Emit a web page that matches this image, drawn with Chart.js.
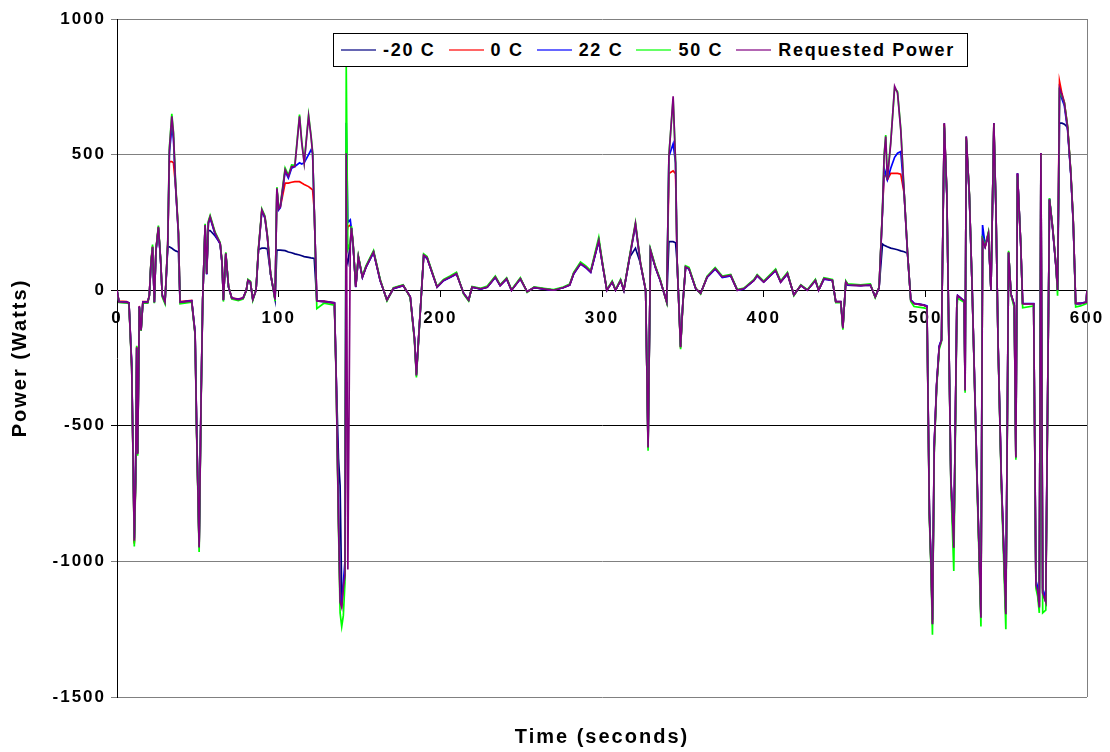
<!DOCTYPE html>
<html>
<head>
<meta charset="utf-8">
<script src="https://cdn.jsdelivr.net/npm/chart.js@4.4.1/dist/chart.umd.min.js"></script>
<style>
  html, body { margin: 0; padding: 0; background: #fff; }
  #wrap { position: relative; width: 1110px; height: 752px; }
  #legend {
    position: absolute; left: 333px; top: 33px; width: 635px; height: 34px;
    box-sizing: border-box; border: 1px solid #000; background: #fff;
    display: flex; align-items: center; padding-left: 7px;
    font: bold 18px "Liberation Sans", Arial, sans-serif; letter-spacing: 1.7px; color: #000;
  }
  .item { display: flex; align-items: center; margin-right: 13px; white-space: nowrap; }
  .swatch { width: 35px; height: 2px; margin-right: 7px; opacity: 0.6; }
</style>
</head>
<body>
<div id="wrap">
  <canvas id="powerChart" width="1110" height="752"></canvas>
  <div id="legend"></div>
</div>
<script>
// time axis (seconds)
const timeSec = [
  0, 1.2, 6, 7.4, 9.1, 10.7, 11.5, 12.2, 12.8, 13.8,
  14.9, 16, 19, 20, 21, 22, 23.1, 24.1, 25.6, 27,
  28, 29.7, 31.4, 32.4, 33.9, 34.9, 36.3, 38, 39, 46.2,
  48.3, 49.3, 50.8, 52, 53, 54.5, 55.5, 56.5, 57.6, 60.7,
  63.8, 65, 65.8, 67.3, 69, 71, 75, 78, 80, 81,
  82.5, 84, 86, 87.5, 89.6, 91.5, 93, 95, 97.8, 98.9,
  100, 101, 104, 106, 108, 110, 112.9, 114.3, 115.8, 118.5,
  120, 121, 122, 123.6, 128, 134.5, 135.5, 137, 138, 139,
  140, 141, 141.8, 142.8, 144.3, 145, 146, 147.7, 149.3, 151.8,
  154, 158.7, 162.8, 167, 171, 177, 181.4, 184, 185.2, 186.5,
  188.4, 189.7, 191.8, 198, 202, 206, 210, 214.4, 217.5, 219.6,
  225, 229, 234, 237, 241, 244, 249.5, 253.7, 258, 264,
  270, 276, 280, 282.5, 286.7, 290, 293, 298, 300.5, 303,
  306.3, 308.4, 311.5, 313.5, 317, 320.7, 323.8, 327, 328.5, 330,
  333, 336, 340, 341.4, 344, 345.5, 346.5, 348.6, 350, 351.7,
  353.8, 358, 361, 365, 370, 374.4, 379.6, 383.7, 387.8, 394,
  396, 400, 407.4, 410.5, 414.7, 418.7, 423, 427, 432, 434,
  437.3, 442.5, 444.6, 447.7, 449, 450.8, 452, 460, 466, 469,
  471.4, 473.5, 474.5, 475.5, 476.5, 478.6, 481, 482.8, 484.8, 486.9,
  489, 491, 493, 499, 501, 502.5, 503.5, 504.4, 505.5, 507,
  508.6, 510, 511.7, 513.3, 515.8, 517.6, 519.5, 520, 524, 524.6,
  525.3, 527.2, 529, 532, 534.4, 535.4, 537, 539, 540.6, 542.4,
  543.7, 545, 547, 549.8, 551.5, 553, 555, 556, 557, 559,
  560.2, 567, 568.4, 569.5, 570.5, 571.5, 572.6, 574.5, 576.8, 578.8,
  580.8, 581.8, 583, 584.5, 586, 588, 590, 591.5, 593, 596,
  599.5, 600
];

const powerMinus20C = [
  0, -44, -46, -49, -280, -930, -695, -212, -600, -61,
  -147, -45, -45, -20, 98, 158, -45, 147, 230, 110,
  -20, -45, 160, 160, 155, 150, 145, 141, -45, -40,
  -160, -530, -945, -405, -37, 238, 60, 220, 220, 200,
  173, 100, -37, 136, 12, -30, -35, -30, 0, 37,
  30, -35, 0, 150, 155, 155, 152, 60, -35, 148,
  148, 148, 146, 141, 138, 134, 130, 127, 124, 121,
  119, 118, 117, -40, -42, -48, -300, -620, -720, -1120,
  -1100, -1050, 120, 100, 170, 230, 173, 12, 123, 49,
  86, 142, 37, -37, 7, 18, -25, -180, -314, -185,
  0, 129, 120, 12, 37, 49, 62, -12, -37, 12,
  5, 12, 49, 18, 43, 0, 43, -6, 10, 5,
  0, 10, 20, 62, 99, 85, 68, 185, 90, 0,
  31, 0, 37, 0, 120, 155, 99, 0, -580, 148,
  86, 37, -43, 179, 179, 175, 100, -210, -50, 86,
  80, 6, -12, 49, 80, 49, 55, 0, 6, 37,
  55, 31, 74, 31, 62, -18, 18, 0, 37, 0,
  43, 37, -43, -43, -140, 31, 20, 18, 20, -25,
  10, 170, 166, 163, 160, 155, 152, 149, 145, 142,
  136, -37, -49, -55, -60, -825, -1010, -1232, -580, -350,
  -210, -185, 616, 357, -700, -950, -49, -20, -40, -370,
  567, 357, 0, -700, -1208, 185, 160, 210, 0, 616,
  296, -200, -700, -1195, 140, -15, -55, -617, 431, 173,
  -50, -50, -1087, -1110, -1170, 506, -1117, -1150, 335, 227,
  89, 0, 616, 616, 612, 600, 430, 250, -50, -50,
  -45, 0
];

const power0C = [
  0, -40, -42, -46, -278, -935, -705, -208, -600, -58,
  -146, -42, -42, -18, 100, 162, -42, 150, 232, 110,
  -18, -42, 172, 474, 474, 470, 380, 210, -42, -38,
  -158, -528, -945, -404, -35, 238, 60, 248, 270, 208,
  172, 100, -35, 135, 12, -28, -33, -28, 0, 36,
  30, -33, 0, 150, 294, 268, 198, 60, -33, 374,
  300, 306, 395, 395, 398, 400, 400, 395, 390, 382,
  375, 370, 296, -40, -40, -46, -295, -845, -1140, -1160,
  -1090, -1040, 200, 234, 240, 228, 172, 12, 122, 48,
  84, 140, 36, -36, 6, 17, -24, -178, -310, -182,
  0, 127, 118, 11, 36, 48, 60, -11, -36, 11,
  5, 11, 48, 17, 42, 0, 42, -5, 9, 5,
  0, 9, 19, 61, 97, 84, 67, 182, 89, 0,
  30, 0, 36, 0, 118, 243, 98, 0, -575, 146,
  86, 37, -43, 430, 440, 430, 100, -210, -50, 86,
  79, 6, -11, 48, 79, 48, 54, 0, 6, 36,
  54, 30, 73, 30, 61, -17, 17, 0, 36, 0,
  42, 36, -42, -42, -138, 30, 19, 17, 19, -24,
  10, 296, 420, 425, 407, 431, 431, 431, 428, 357,
  136, -37, -49, -55, -60, -820, -1005, -1225, -575, -348,
  -208, -184, 612, 355, -695, -945, -50, -20, -40, -366,
  562, 355, 0, -695, -1200, 184, 160, 208, 0, 612,
  294, -198, -695, -1188, 139, -15, -55, -612, 428, 172,
  -50, -50, -1080, -1105, -1165, 502, -1110, -1145, 333, 225,
  89, 0, 770, 725, 692, 602, 432, 252, -48, -48,
  -44, 0
];

const power22C = [
  0, -42, -44, -47, -270, -915, -690, -215, -595, -60,
  -145, -44, -44, -19, 96, 156, -44, 145, 228, 108,
  -19, -44, 168, 505, 600, 560, 375, 205, -44, -39,
  -155, -520, -935, -400, -36, 236, 58, 246, 266, 206,
  170, 98, -36, 133, 11, -29, -34, -29, 0, 35,
  29, -34, 0, 148, 292, 266, 197, 58, -34, 372,
  296, 304, 438, 414, 450, 456, 470, 465, 470, 500,
  517, 505, 296, -40, -41, -46, -290, -830, -1120, -1150,
  -1080, -1000, 617, 250, 259, 225, 170, 11, 120, 47,
  84, 139, 35, -36, 6, 17, -24, -176, -308, -182,
  0, 126, 118, 11, 35, 47, 60, -11, -36, 11,
  4, 11, 47, 17, 41, 0, 41, -5, 9, 4,
  0, 9, 19, 60, 97, 83, 66, 180, 88, 0,
  30, 0, 36, 0, 117, 240, 97, 0, -570, 145,
  84, 36, -42, 493, 540, 469, 98, -205, -48, 84,
  78, 5, -11, 47, 78, 47, 53, 0, 5, 36,
  53, 30, 72, 30, 60, -17, 17, 0, 36, 0,
  41, 36, -42, -42, -136, 30, 19, 17, 19, -24,
  9, 290, 450, 430, 407, 450, 490, 505, 511, 357,
  134, -36, -48, -54, -58, -810, -995, -1215, -570, -345,
  -205, -182, 600, 350, -690, -940, -48, -19, -39, -362,
  555, 350, 0, -690, -1195, 240, 165, 205, 0, 600,
  290, -196, -690, -1180, 137, -15, -54, -605, 431, 170,
  -49, -49, -1070, -1095, -1150, 495, -1100, -1135, 338, 222,
  87, 0, 730, 705, 680, 590, 425, 245, -50, -48,
  -44, 0
];

const power50C = [
  0, -45, -47, -50, -290, -945, -720, -205, -610, -66,
  -150, -48, -48, -22, 105, 168, -48, 152, 238, 115,
  -25, -50, 180, 525, 650, 585, 390, 215, -50, -44,
  -165, -545, -965, -420, -40, 245, 62, 255, 276, 214,
  176, 104, -42, 140, 14, -33, -38, -33, -2, 40,
  33, -38, 2, 155, 300, 274, 204, 62, -40, 380,
  304, 312, 450, 424, 462, 460, 648, 548, 472, 646,
  572, 510, 300, -68, -48, -55, -310, -870, -1190, -1240,
  -1200, -1080, 825, 150, 175, 236, 178, 15, 127, 52,
  90, 146, 40, -40, 9, 20, -28, -186, -322, -190,
  2, 134, 124, 14, 40, 52, 66, -14, -40, 14,
  7, 15, 52, 20, 46, 2, 46, -8, 12, 7,
  2, 12, 23, 66, 104, 90, 72, 195, 94, 2,
  34, 2, 40, 2, 124, 250, 102, 2, -592, 152,
  90, 40, -46, 500, 705, 475, 104, -218, -54, 90,
  84, 8, -14, 52, 84, 52, 58, 2, 8, 40,
  58, 34, 78, 34, 66, -20, 20, 2, 40, 2,
  46, 40, -46, -46, -146, 34, 23, 20, 23, -28,
  12, 300, 498, 572, 412, 548, 745, 732, 596, 362,
  140, -42, -60, -65, -68, -840, -1030, -1270, -600, -360,
  -218, -190, 606, 362, -720, -1035, -70, -30, -45, -378,
  560, 360, 2, -720, -1240, 190, 165, 214, 2, 610,
  300, -205, -720, -1250, 145, -18, -65, -625, 420, 176,
  -65, -58, -1100, -1130, -1190, 500, -1190, -1180, 340, 232,
  92, -20, 735, 715, 692, 605, 436, 255, -62, -58,
  -50, 0
];

const requestedPower = [
  0, -43, -45, -48, -283, -924, -700, -210, -604, -62,
  -148, -45, -45, -20, 99, 160, -45, 148, 234, 111,
  -20, -45, 173, 518, 641, 579, 382, 210, -45, -40,
  -160, -530, -949, -407, -37, 240, 60, 250, 271, 210,
  173, 100, -37, 136, 12, -30, -35, -30, 0, 37,
  30, -35, 0, 150, 296, 270, 200, 60, -35, 376,
  300, 308, 444, 419, 456, 456, 641, 542, 468, 641,
  567, 505, 296, -40, -42, -48, -300, -850, -1150, -1170,
  -1100, -1050, 505, -1030, 170, 230, 173, 12, 123, 49,
  86, 142, 37, -37, 7, 18, -25, -180, -314, -185,
  0, 129, 120, 12, 37, 49, 62, -12, -37, 12,
  5, 12, 49, 18, 43, 0, 43, -6, 10, 5,
  0, 10, 20, 62, 99, 85, 68, 185, 90, 0,
  31, 0, 37, 0, 120, 246, 99, 0, -580, 148,
  86, 37, -43, 493, 715, 469, 100, -210, -50, 86,
  80, 6, -12, 49, 80, 49, 55, 0, 6, 37,
  55, 31, 74, 31, 62, -18, 18, 0, 37, 0,
  43, 37, -43, -43, -140, 31, 20, 18, 20, -25,
  10, 296, 493, 567, 407, 542, 752, 727, 591, 357,
  136, -37, -49, -55, -60, -825, -1010, -1232, -580, -350,
  -210, -185, 616, 357, -700, -950, -49, -20, -40, -370,
  567, 357, 0, -700, -1208, 185, 160, 210, 0, 616,
  296, -200, -700, -1195, 140, -15, -55, -617, 431, 173,
  -50, -50, -1087, -1110, -1170, 506, -1117, -1150, 335, 227,
  89, 0, 745, 720, 690, 600, 430, 250, -50, -50,
  -45, 0
];

const xTicks = [0, 100, 200, 300, 400, 500, 600];
const yTicks = [-1500, -1000, -500, 0, 500, 1000];

const seriesList = [
  { label: '-20 C', values: powerMinus20C, color: '#000080' },
  { label: '0 C', values: power0C, color: '#FF0000' },
  { label: '22 C', values: power22C, color: '#0000FF' },
  { label: '50 C', values: power50C, color: '#00FF00' },
  { label: 'Requested Power', values: requestedPower, color: '#800080' }
];

const FONT = '"Liberation Sans", Arial, sans-serif';

// legend box (html text)
const legendEl = document.getElementById('legend');
seriesList.forEach(function (s) {
  const item = document.createElement('div');
  item.className = 'item';
  const sw = document.createElement('span');
  sw.className = 'swatch';
  sw.style.background = s.color;
  const txt = document.createElement('span');
  txt.textContent = s.label;
  item.appendChild(sw);
  item.appendChild(txt);
  legendEl.appendChild(item);
});

// gray right border + wider letter spacing like the original export
const frameAndSpacing = {
  id: 'frameAndSpacing',
  beforeLayout(chart) { chart.ctx.letterSpacing = '2px'; },
  beforeDraw(chart) { chart.ctx.letterSpacing = '2px'; },
  beforeDatasetsDraw(chart) {
    const { ctx, chartArea } = chart;
    const x = Math.round(chartArea.right) + 0.5;
    ctx.save();
    ctx.strokeStyle = '#808080';
    ctx.lineWidth = 1;
    ctx.beginPath();
    ctx.moveTo(x, chartArea.top);
    ctx.lineTo(x, chartArea.bottom);
    ctx.stroke();
    ctx.restore();
  }
};

// x axes must not push the plot area in from the sides
function noSidePadding(s) {
  s.paddingLeft = 0;
  s.paddingRight = 0;
}

const ctx = document.getElementById('powerChart').getContext('2d');
new Chart(ctx, {
  type: 'line',
  data: {
    datasets: seriesList.map(function (s, i) {
      return {
        label: s.label,
        data: timeSec.map(function (t, j) { return { x: t, y: s.values[j] }; }),
        borderColor: s.color,
        backgroundColor: s.color,
        borderWidth: 1.7,
        pointRadius: 0,
        tension: 0,
        fill: false,
        order: seriesList.length - i, // requested power on top
        xAxisID: 'x',
        yAxisID: 'y'
      };
    })
  },
  options: {
    responsive: false,
    animation: false,
    devicePixelRatio: 1,
    layout: { padding: { left: 0, right: 23, top: 19, bottom: 0 } },
    plugins: {
      legend: { display: false },
      tooltip: { enabled: false }
    },
    scales: {
      x: {
        type: 'linear',
        min: 0,
        max: 600,
        position: { y: 0 },
        afterBuildTicks: function (s) { s.ticks = xTicks.map(function (v) { return { value: v }; }); },
        afterFit: noSidePadding,
        ticks: {
          color: '#000',
          font: { family: FONT, size: 17, weight: 'bold' },
          padding: 12,
          maxRotation: 0,
          autoSkip: false,
          callback: function (v) { return String(v); }
        },
        grid: { drawOnChartArea: false, color: '#000', tickLength: 6 },
        border: { color: '#000', width: 1 }
      },
      xTitle: {
        type: 'linear',
        axis: 'x',
        position: 'bottom',
        min: 0,
        max: 600,
        ticks: { display: false },
        grid: { display: false },
        border: { display: false },
        title: {
          display: true,
          text: 'Time (seconds)',
          color: '#000',
          font: { family: FONT, size: 20, weight: 'bold' },
          padding: { top: 0, bottom: 3 }
        },
        afterFit: function (s) { noSidePadding(s); s.height = 55; }
      },
      y: {
        type: 'linear',
        min: -1500,
        max: 1000,
        afterBuildTicks: function (s) { s.ticks = yTicks.map(function (v) { return { value: v }; }); },
        ticks: {
          color: '#000',
          font: { family: FONT, size: 17, weight: 'bold' },
          padding: 5,
          callback: function (v) { return String(v); }
        },
        grid: {
          color: function (c) {
            if (c.tick && (c.tick.value === 0 || c.tick.value === -500)) return '#000';
            return '#808080';
          },
          tickLength: 6
        },
        border: { color: '#000', width: 1 },
        title: {
          display: true,
          text: 'Power (Watts)',
          color: '#000',
          font: { family: FONT, size: 20, weight: 'bold' },
          padding: { top: 8, bottom: 0 }
        },
        afterFit: function (s) { s.width = 117; }
      }
    }
  },
  plugins: [frameAndSpacing]
});
</script>
</body>
</html>
